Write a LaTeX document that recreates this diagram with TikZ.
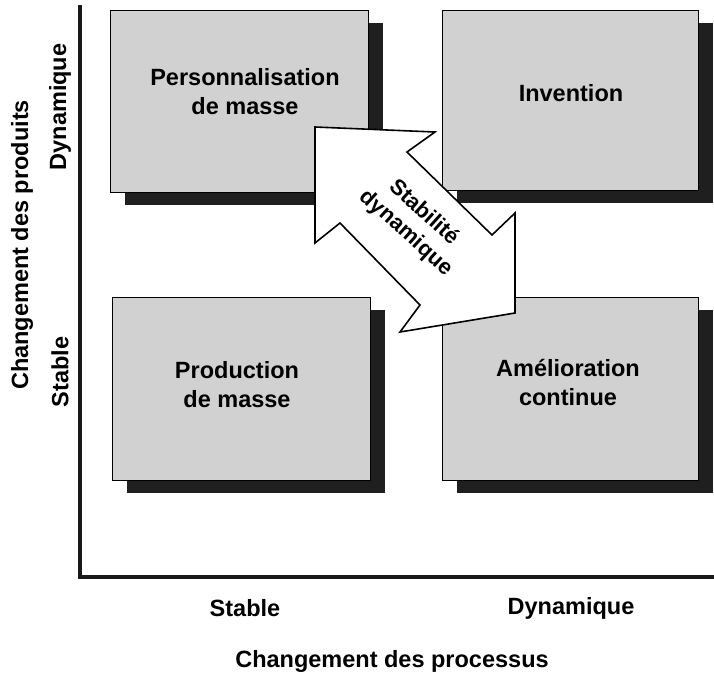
\documentclass[tikz,border=0pt]{standalone}
\usepackage{fontspec}
\setmainfont{Liberation Sans}
\usetikzlibrary{shadows}
\begin{document}
\begin{tikzpicture}[x=1pt,y=-1pt,
  quad/.style={draw=black,line width=1pt,fill=black!18,rectangle,inner sep=0pt,
    drop shadow={shadow xshift=15pt,shadow yshift=-13pt,fill=black!88,opacity=1}},
  lbl/.style={font=\fontsize{23.5}{29}\selectfont\bfseries,align=center,inner sep=0pt},
  axis/.style={line width=4.5pt,black!90}]
\useasboundingbox (0,0) rectangle (714,675);
% axes
\coordinate (top) at (80,5);
\coordinate (origin) at (80,577);
\coordinate (right) at (714,577);
\draw[axis] (top) -- (origin) -- (right);
% boxes
\node[quad,minimum width=258pt,minimum height=182pt] (tl) at (239,101) {};
\node[quad,minimum width=256pt,minimum height=180pt] (tr) at (570,100) {};
\node[quad,minimum width=258pt,minimum height=183pt] (bl) at (241,388.5) {};
\node[quad,minimum width=256pt,minimum height=183pt] (br) at (570,388.5) {};
\node[lbl] (tlt) at (245,92) {Personnalisation\\de masse};
\node[lbl] (trt) at (571,93) {Invention};
\node[lbl] (blt) at (237,385) {Production\\de masse};
\node[lbl] (brt) at (568,382) {Amélioration\\continue};
% double arrow
\draw[line width=1.6pt,fill=white,line join=miter]
  (315,127) -- (435,132) -- (407,152) -- (492,235) -- (515,213) -- (515,313)
  -- (400,332) -- (420,305) -- (340,223) -- (315,243) -- cycle;
\node[lbl,font=\fontsize{22}{27}\selectfont\bfseries,rotate=-42] (arr) at (415,223) {Stabilité\\dynamique};
% axis labels
\node[lbl] (xs) at (245,608) {Stable};
\node[lbl] (xd) at (571,608) {Dynamique};
\node[lbl] (xt) at (392,661) {Changement des processus};
\node[lbl,rotate=90] (yt) at (22,245) {Changement des produits};
\node[lbl,rotate=90] (yd) at (60,107) {Dynamique};
\node[lbl,rotate=90] (ys) at (60,372) {Stable};
\end{tikzpicture}
\end{document}
